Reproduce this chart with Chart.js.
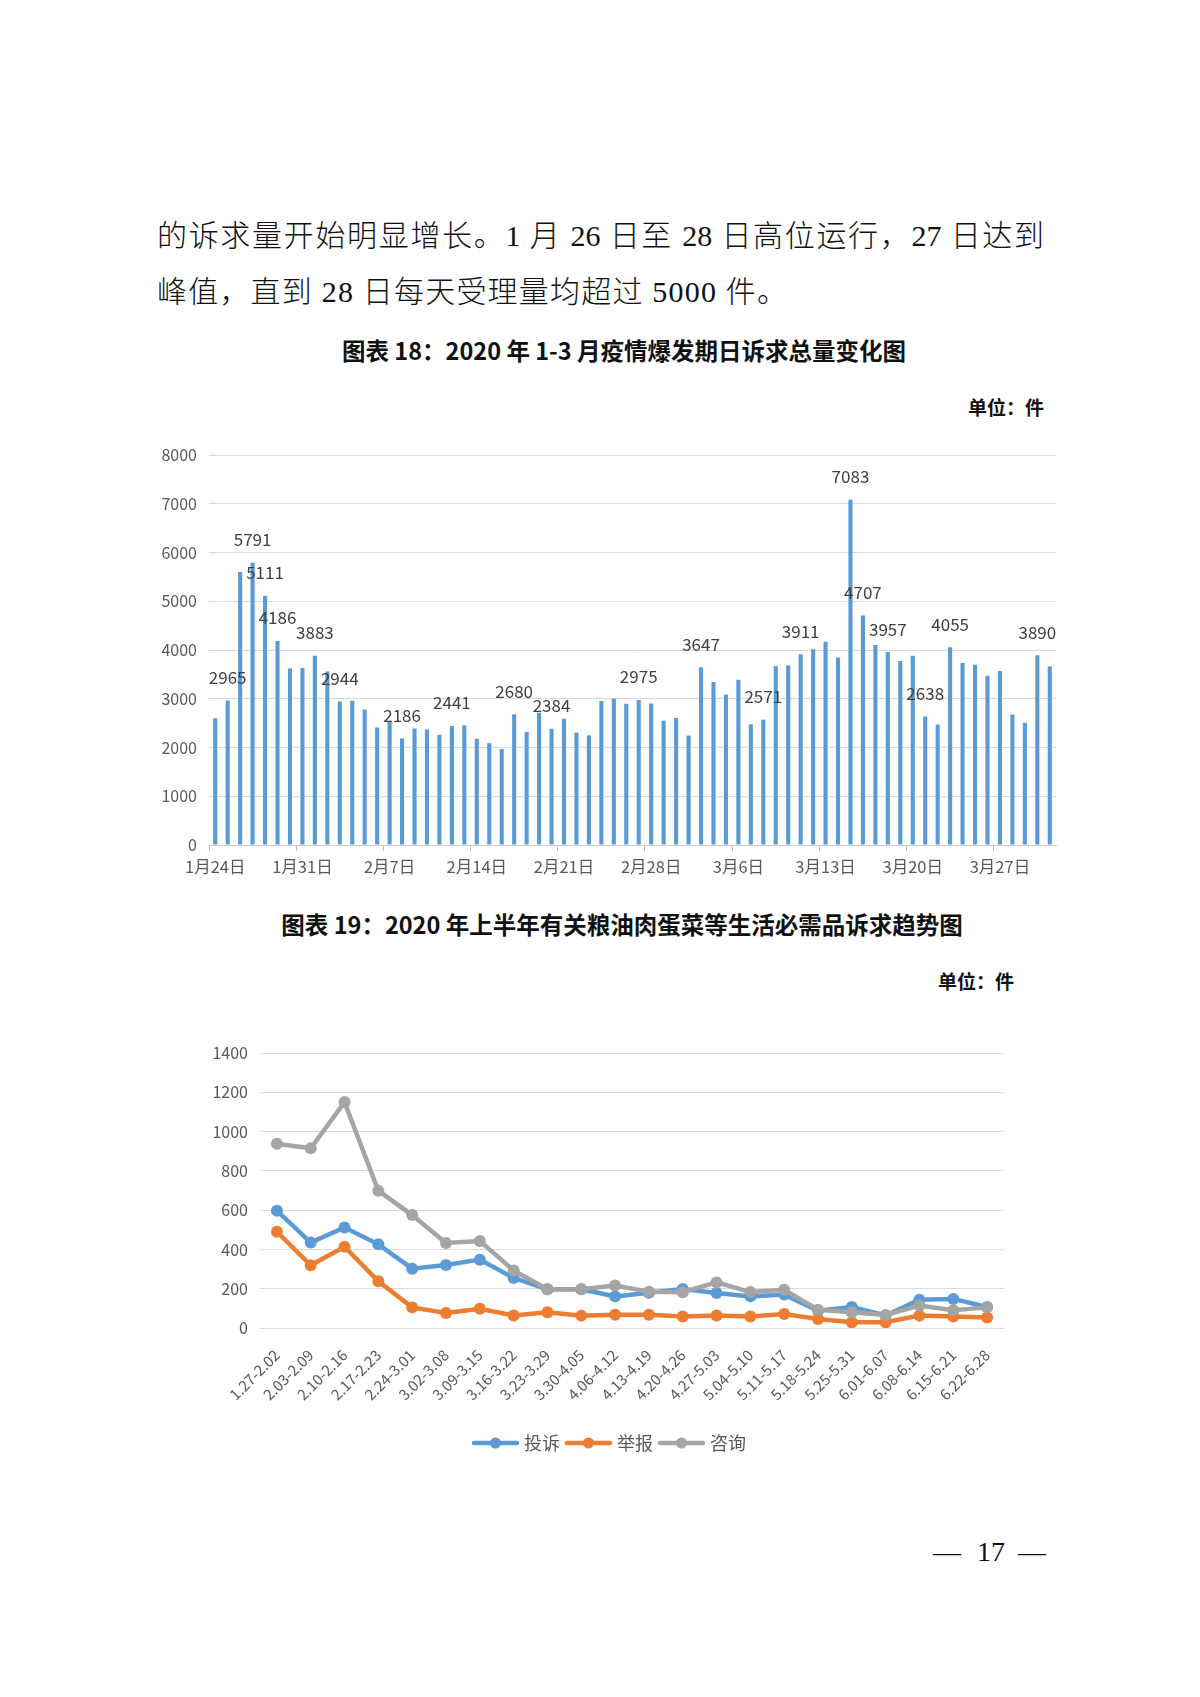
<!DOCTYPE html>
<html>
<head>
<meta charset="utf-8">
<title>诉求量变化图</title>
<script src="https://cdn.jsdelivr.net/npm/chart.js"></script>
<style>
    body { margin: 0; background: #fff; width: 1200px; height: 1697px; position: relative; overflow: hidden;
           font-family: 'Noto Sans CJK SC', sans-serif; color: #111; }
    .abs { position: absolute; white-space: nowrap; }
    .para { font-family: 'Liberation Serif', 'Noto Sans CJK SC', serif; font-size: 30px; line-height: 40px; font-weight: 300; }
    .line1 { left: 157px; top: 216px; width: 887px; text-align: justify; text-align-last: justify; white-space: normal; }
    .line2 { left: 157px; top: 272px; letter-spacing: 1.2px; }
    .title { font-size: 23.5px; font-weight: bold; line-height: 30px; transform: translateX(-50%); }
    .unit { font-size: 19px; font-weight: bold; line-height: 26px; }
    .pageno { font-family: 'Liberation Serif', serif; font-size: 28px; line-height: 34px; top: 1535px; }
</style>
</head>
<body>
    <div class="abs para line1">的诉求量开始明显增长。1 月 26 日至 28 日高位运行，27 日达到</div>
    <div class="abs para line2">峰值，直到 28 日每天受理量均超过 5000 件。</div>

    <div class="abs title" style="left:624px; top:335px;">图表 18：2020 年 1-3 月疫情爆发期日诉求总量变化图</div>
    <div class="abs unit" style="right:156px; top:394px;">单位：件</div>

    <canvas id="dailyChart" width="930" height="450" style="position:absolute; left:140px; top:440px;"></canvas>

    <div class="abs title" style="left:622px; top:909px;">图表 19：2020 年上半年有关粮油肉蛋菜等生活必需品诉求趋势图</div>
    <div class="abs unit" style="right:186px; top:968px;">单位：件</div>

    <canvas id="weeklyChart" width="830" height="420" style="position:absolute; left:190px; top:1040px;"></canvas>

    <div class="abs pageno" style="left:933px;">—</div>
    <div class="abs pageno" style="left:977px;">17</div>
    <div class="abs pageno" style="left:1018px;">—</div>

<script>
// 图表18：1月24日 - 3月31日 每日诉求总量
const dailyTotals = [
    2600, 2965, 5600, 5791, 5111, 4186, 3620, 3630, 3883, 3560,
    2944, 2960, 2780, 2410, 2540, 2186, 2390, 2370, 2260, 2441,
    2455, 2180, 2090, 1970, 2680, 2320, 2715, 2384, 2590, 2305,
    2250, 2955, 3000, 2895, 2975, 2905, 2550, 2605, 2245, 3647,
    3345, 3085, 3390, 2475, 2571, 3665, 3685, 3911, 4015, 4170,
    3845, 7083, 4707, 4105, 3957, 3775, 3880, 2638, 2470, 4055,
    3735, 3695, 3470, 3570, 2675, 2505, 3890, 3660
];
// bars that carry a value label (0-based)
const labelledDays = [1, 3, 4, 5, 8, 10, 15, 19, 24, 27, 34, 39, 44, 47, 51, 52, 54, 57, 59, 66];
const dateTicks = ['1月24日', '1月31日', '2月7日', '2月14日', '2月21日', '2月28日', '3月6日', '3月13日', '3月20日', '3月27日'];
const tickEvery = 7;

// 图表19：每周诉求
const weeks = ['1.27-2.02', '2.03-2.09', '2.10-2.16', '2.17-2.23', '2.24-3.01', '3.02-3.08', '3.09-3.15',
               '3.16-3.22', '3.23-3.29', '3.30-4.05', '4.06-4.12', '4.13-4.19', '4.20-4.26', '4.27-5.03',
               '5.04-5.10', '5.11-5.17', '5.18-5.24', '5.25-5.31', '6.01-6.07', '6.08-6.14', '6.15-6.21', '6.22-6.28'];
const complaints = [597, 435, 512, 426, 302, 321, 348, 255, 197, 197, 161, 180, 199, 178, 161, 170, 88, 107, 64, 144, 148, 107];
const reports    = [490, 319, 414, 238, 105, 76, 98, 64, 80, 63, 68, 68, 59, 64, 59, 71, 46, 29, 29, 63, 59, 53];
const inquiries  = [938, 915, 1150, 699, 575, 433, 443, 293, 197, 197, 216, 185, 182, 232, 183, 195, 93, 80, 66, 114, 90, 105];

const BLUE = '#5B9BD5', ORANGE = '#ED7D31', GREY = '#A5A5A5';
const TEXT = '#595959', GRID = '#D9D9D9';

Chart.defaults.font.family = "'Noto Sans CJK SC', sans-serif";
Chart.defaults.color = TEXT;

const dayLabels = dailyTotals.map((v, i) => i % tickEvery === 0 ? dateTicks[i / tickEvery] : '');
const plainNumber = v => String(v);   // no thousands separator, like the original

// let layout.padding alone decide where the plot area sits
function noScalePadding(s) {
    s.paddingTop = 0;
    s.paddingBottom = 0;
    s.paddingLeft = 0;
    s.paddingRight = 0;
}

const barValueLabels = {
    id: 'barValueLabels',
    afterDatasetsDraw(chart) {
        const meta = chart.getDatasetMeta(0);
        const ctx = chart.ctx;
        ctx.save();
        ctx.font = "17px 'Noto Sans CJK SC'";
        ctx.fillStyle = '#404040';
        ctx.textAlign = 'center';
        ctx.textBaseline = 'middle';
        labelledDays.forEach(i => {
            const bar = meta.data[i];
            ctx.fillText(String(dailyTotals[i]), bar.x, bar.y - 23);
        });
        ctx.restore();
    }
};

new Chart(document.getElementById('dailyChart'), {
    type: 'bar',
    data: {
        labels: dayLabels,
        datasets: [{
            data: dailyTotals,
            backgroundColor: BLUE,
            barPercentage: 0.33,
            categoryPercentage: 1
        }]
    },
    options: {
        responsive: false,
        animation: false,
        layout: { padding: { top: 15, right: 14, bottom: 0, left: 0 } },
        plugins: { legend: { display: false }, tooltip: { enabled: false } },
        scales: {
            x: {
                offset: true,
                grid: {
                    offset: true,
                    drawOnChartArea: false,
                    tickLength: 6,
                    color: ctx => ctx.index % tickEvery === 0 ? '#BFBFBF' : 'rgba(0,0,0,0)'
                },
                border: { display: true, color: '#CFCFCF' },
                ticks: { autoSkip: false, maxRotation: 0, minRotation: 0, padding: 6, color: TEXT, font: { size: 16.5 } },
                afterFit: s => { s.height = 45; noScalePadding(s); }
            },
            y: {
                min: 0,
                max: 8000,
                ticks: { stepSize: 1000, padding: 12, color: TEXT, font: { size: 16 }, callback: plainNumber },
                grid: { color: GRID, drawTicks: false },
                border: { display: false },
                afterFit: s => { s.width = 69; noScalePadding(s); }
            }
        }
    },
    plugins: [barValueLabels]
});

const lineLegend = {
    id: 'lineLegend',
    afterDraw(chart) {
        const ctx = chart.ctx;
        const items = chart.data.datasets;
        const sampleLen = 43, gap = 7;
        ctx.save();
        ctx.font = "18px 'Noto Sans CJK SC'";
        const total = items.reduce((w, d) => w + sampleLen + gap + ctx.measureText(d.label).width + gap, 0) - gap;
        let x = chart.width / 2 + 5 - total / 2;
        const y = 403;
        items.forEach(d => {
            ctx.strokeStyle = d.borderColor;
            ctx.lineWidth = 4.5;
            ctx.lineCap = 'round';
            ctx.beginPath();
            ctx.moveTo(x, y);
            ctx.lineTo(x + sampleLen, y);
            ctx.stroke();
            ctx.fillStyle = d.borderColor;
            ctx.beginPath();
            ctx.arc(x + sampleLen / 2, y, 5.5, 0, Math.PI * 2);
            ctx.fill();
            x += sampleLen + gap;
            ctx.fillStyle = TEXT;
            ctx.textBaseline = 'middle';
            ctx.fillText(d.label, x, y);
            x += ctx.measureText(d.label).width + gap;
        });
        ctx.restore();
    }
};

function lineSeries(label, values, color, order) {
    return {
        label: label,
        data: values,
        borderColor: color,
        backgroundColor: color,
        borderWidth: 4.5,
        pointRadius: 6,
        pointBorderWidth: 0,
        pointBackgroundColor: color,
        tension: 0,
        order: order
    };
}

new Chart(document.getElementById('weeklyChart'), {
    type: 'line',
    data: {
        labels: weeks,
        datasets: [
            lineSeries('投诉', complaints, BLUE, 3),
            lineSeries('举报', reports, ORANGE, 2),
            lineSeries('咨询', inquiries, GREY, 1)
        ]
    },
    options: {
        responsive: false,
        animation: false,
        layout: { padding: { top: 13, right: 16, bottom: 52, left: 0 } },
        plugins: { legend: { display: false }, tooltip: { enabled: false } },
        scales: {
            x: {
                offset: true,
                grid: { display: false },
                border: { display: false },
                ticks: { autoSkip: false, minRotation: 45, maxRotation: 45, padding: 10, color: TEXT, font: { size: 15 } },
                afterFit: s => { s.height = 80; noScalePadding(s); }
            },
            y: {
                min: 0,
                max: 1400,
                ticks: { stepSize: 200, padding: 12, color: TEXT, font: { size: 16 }, callback: plainNumber },
                grid: { color: GRID, drawTicks: false },
                border: { display: false },
                afterFit: s => { s.width = 70; noScalePadding(s); }
            }
        }
    },
    plugins: [lineLegend]
});
</script>
</body>
</html>
